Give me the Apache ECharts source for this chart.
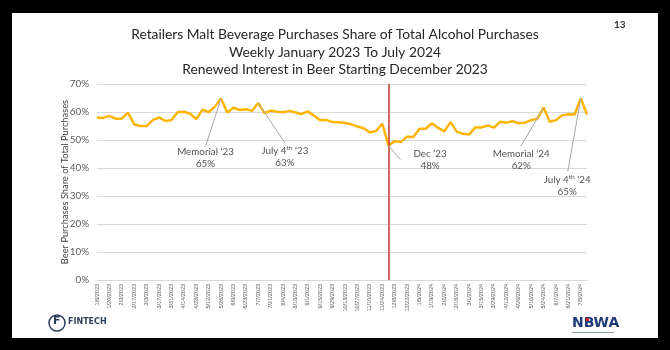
<!DOCTYPE html>
<html>
<head>
<meta charset="utf-8">
<script src="https://cdn.jsdelivr.net/npm/echarts@6/dist/echarts.min.js"></script>
<style>
html,body{margin:0;padding:0;background:#000;}
#chart{width:670px;height:350px;}
</style>
</head>
<body>
<div id="chart"></div>
<script>
// Weekly periods
var weeks = [
 '1/6/2023','1/13/2023','1/20/2023','1/27/2023','2/3/2023','2/10/2023','2/17/2023','2/24/2023',
 '3/3/2023','3/10/2023','3/17/2023','3/24/2023','3/31/2023','4/7/2023','4/14/2023','4/21/2023',
 '4/28/2023','5/5/2023','5/12/2023','5/19/2023','5/26/2023','6/2/2023','6/9/2023','6/16/2023',
 '6/23/2023','6/30/2023','7/7/2023','7/14/2023','7/21/2023','7/28/2023','8/4/2023','8/11/2023',
 '8/18/2023','8/25/2023','9/1/2023','9/8/2023','9/15/2023','9/22/2023','9/29/2023','10/6/2023',
 '10/13/2023','10/20/2023','10/27/2023','11/3/2023','11/10/2023','11/17/2023','11/24/2023','12/1/2023',
 '12/8/2023','12/15/2023','12/22/2023','12/29/2023','1/5/2024','1/12/2024','1/19/2024','1/26/2024',
 '2/2/2024','2/9/2024','2/16/2024','2/23/2024','3/1/2024','3/8/2024','3/15/2024','3/22/2024',
 '3/29/2024','4/5/2024','4/12/2024','4/19/2024','4/26/2024','5/3/2024','5/10/2024','5/17/2024',
 '5/24/2024','5/31/2024','6/7/2024','6/14/2024','6/21/2024','6/28/2024','7/5/2024','7/12/2024'
];
// Beer share of total alcohol purchases (%)
var beerShare = [
 58.0,57.9,58.6,57.6,57.6,59.8,55.6,55.0,
 55.0,57.1,58.1,56.8,57.1,59.9,60.1,59.4,
 57.4,60.8,60.0,61.9,64.8,59.8,61.5,60.7,
 61.0,60.4,63.2,59.6,60.5,60.1,59.9,60.4,
 59.8,59.3,60.2,58.7,57.1,57.1,56.4,56.3,
 56.1,55.6,54.8,54.2,52.7,53.2,55.8,48.0,
 49.6,49.3,51.2,51.1,54.0,54.0,56.0,54.3,
 53.1,56.4,53.0,52.2,52.0,54.5,54.5,55.2,
 54.4,56.5,56.2,56.7,56.0,56.2,57.1,57.6,
 61.6,56.5,57.1,58.8,59.2,59.1,64.9,59.1
];
var yTicks = [0,10,20,30,40,50,60,70];
var markerWeek = '12/1/2023';

// Annotations: text, anchor (week index, value), text centre (week index, value), leader end (week index, value)
var annTexts = ['Memorial \u201823\n65%', 'July 4{sup|th} \u201823\n63%', 'Dec \u201823\n48%', 'Memorial \u201824\n62%', 'July 4{sup|th} \u201824\n65%'];
var annAnchorX = [20, 26, 47, 72, 78];
var annAnchorY = [64.8, 63.2, 48.0, 61.6, 64.9];
var annTextX = [17.5, 30.3, 53.7, 68.4, 75.8];
var annTextY = [43.7, 44.0, 43.0, 43.0, 33.7];
var annEndX = [17.5, 30.3, 48.9, 68.4, 75.9];
var annEndY = [47.7, 49.0, 43.0, 48.0, 38.8];

var FONT = 'Lato, "Open Sans", sans-serif';

var chart = echarts.init(document.getElementById('chart'), null, {renderer:'canvas'});

var annPoints = annTexts.map(function(t,i){ return {value:[annTextX[i], annTextY[i]], name:t}; });
var leaders = annTexts.map(function(t,i){
  return [{coord:[annAnchorX[i], annAnchorY[i]]},{coord:[annEndX[i], annEndY[i]]}];
});

chart.setOption({
  backgroundColor:'#000',
  animation:false,
  textStyle:{fontFamily:FONT},
  title:{
    text:'Retailers Malt Beverage Purchases Share of Total Alcohol Purchases\nWeekly January 2023 To July 2024\nRenewed Interest in Beer Starting December 2023',
    left:'center', top:21,
    textStyle:{fontFamily:FONT, fontSize:13.8, fontWeight:'normal', color:'#262626', lineHeight:17.5}
  },
  graphic:[
    {type:'rect', z:-100, silent:true, shape:{x:12,y:13,width:646,height:325}, style:{fill:'#fff'}},
    {type:'text', left:614, top:20, style:{text:'13', fontFamily:FONT, fontSize:10, fontWeight:'bold', fill:'#333'}},
    {type:'circle', shape:{cx:57, cy:323, r:8}, style:{fill:'none', stroke:'#2d3e5c', lineWidth:1.5}},
    {type:'text', left:53, top:316, style:{text:'F', fontFamily:'DejaVu Sans', fontSize:11, fontWeight:'bold', fill:'#2d3e5c'}},
    {type:'text', left:68, top:318, style:{text:'FINTECH', fontFamily:'DejaVu Sans', fontSize:8, fontWeight:'bold', fill:'#2d3e5c'}},
    {type:'text', left:572, top:316, style:{text:'NBWA', fontFamily:'DejaVu Sans', fontSize:14, fontWeight:'bold', fill:'#1f3a78'}},
    {type:'rect', shape:{x:586,y:318,width:3,height:3}, style:{fill:'#d3232a'}},
    {type:'rect', shape:{x:572,y:332,width:42,height:1}, style:{fill:'#8a97b8'}}
  ],
  grid:{left:97, right:83, top:84, bottom:70},
  xAxis:[{
    type:'category', data:weeks, boundaryGap:false,
    axisLine:{show:true, lineStyle:{color:'#d9d9d9'}},
    axisTick:{show:false},
    axisLabel:{interval:1, rotate:90, fontSize:5.5, color:'#595959', margin:4, fontFamily:'Liberation Sans'}
  },{
    type:'value', min:0, max:weeks.length-1, show:false
  }],
  yAxis:{
    type:'value', min:yTicks[0], max:yTicks[yTicks.length-1], interval:10,
    name:'Beer Purchases Share of Total Purchases', nameLocation:'middle', nameGap:28,
    nameMoveOverlap:false,
    nameTextStyle:{fontSize:9.3, color:'#404040', fontFamily:FONT},
    axisLine:{show:false}, axisTick:{show:false},
    axisLabel:{formatter:'{value}%', fontSize:9.8, color:'#595959', margin:8, fontFamily:FONT},
    splitLine:{lineStyle:{color:'#d9d9d9', width:1}}
  },
  series:[{
    type:'line', data:beerShare, xAxisIndex:0, yAxisIndex:0,
    symbol:'none', smooth:false,
    lineStyle:{color:'#FFB500', width:2.5},
    markLine:{
      silent:true, symbol:'none', label:{show:false},
      lineStyle:{color:'#c0392b', width:1.5, type:'solid'},
      data:[{xAxis:markerWeek}]
    },
    z:3
  },{
    type:'scatter', xAxisIndex:1, yAxisIndex:0, data:annPoints,
    symbolSize:0, silent:true, z:4,
    label:{
      show:true, position:'inside', formatter:function(p){return p.name;},
      fontFamily:FONT, fontSize:9.8, color:'#262626', lineHeight:12, align:'center',
      rich:{sup:{fontSize:6.5, fontFamily:FONT, color:'#262626', padding:[0,0,5,0]}}
    },
    markLine:{
      silent:true, symbol:'none', label:{show:false},
      lineStyle:{color:'#a6a6a6', width:1, type:'solid'},
      data:leaders
    }
  }]
});
</script>
</body>
</html>
